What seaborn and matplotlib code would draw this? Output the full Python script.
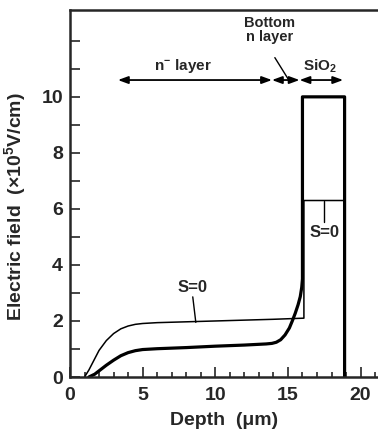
import matplotlib
matplotlib.use("Agg")
import matplotlib.pyplot as plt
import seaborn as sns
import pandas as pd
from matplotlib.ticker import MultipleLocator, FixedLocator

# field profile with S=0 (thin line)
thin_depth = [1.0, 1.3, 1.6, 2.0, 2.5, 3.0, 3.5, 4.0, 4.5, 5.0, 6.0, 8.0, 10.0, 12.0, 14.0, 16.1, 16.1, 18.9, 18.9]
thin_field = [0.0, 0.25, 0.55, 0.95, 1.3, 1.55, 1.72, 1.82, 1.88, 1.91, 1.94, 1.97, 2.0, 2.03, 2.06, 2.1, 6.3, 6.3, 0.0]

# field profile (thick line)
thick_depth = [1.3, 1.7, 2.0, 2.5, 3.0, 3.5, 4.0, 4.5, 5.0, 6.0, 8.0, 10.0, 12.0, 13.5, 13.9, 14.2, 14.5, 14.8, 15.1,
               15.3, 15.5, 15.7, 15.85, 15.95, 16.0, 16.0, 18.9, 18.9]
thick_field = [0.0, 0.1, 0.22, 0.42, 0.6, 0.76, 0.87, 0.94, 0.98, 1.01, 1.05, 1.1, 1.14, 1.18, 1.2, 1.24, 1.33, 1.5, 1.75,
               2.0, 2.27, 2.58, 2.87, 3.2, 3.5, 10.0, 10.0, 0.0]

# layer boundaries for the arrows
layer_edges = [3.3, 13.9, 15.8, 18.8]

sns.set_style("ticks")
plt.rcParams["font.family"] = ["Liberation Sans", "DejaVu Sans"]
plt.rcParams["font.weight"] = "bold"
plt.rcParams["mathtext.fontset"] = "custom"
plt.rcParams["mathtext.rm"] = "Liberation Sans:bold"
plt.rcParams["mathtext.bf"] = "Liberation Sans:bold"
plt.rcParams["mathtext.it"] = "Liberation Sans:bold"
plt.rcParams["mathtext.default"] = "rm"

fig = plt.figure(figsize=(3.78, 4.36), dpi=100)
ax = fig.add_axes([70 / 378, 1 - 377 / 436, 308 / 378, 367 / 436])

thin = pd.DataFrame({"depth": thin_depth, "field": thin_field})
thick = pd.DataFrame({"depth": thick_depth, "field": thick_field})
sns.lineplot(data=thin, x="depth", y="field", sort=False, estimator=None, color="black", lw=1.1, ax=ax)
sns.lineplot(data=thick, x="depth", y="field", sort=False, estimator=None, color="black", lw=2.3, ax=ax)

ax.set_xlim(0, 21.2)
ax.set_ylim(0, 13.1)
ax.xaxis.set_major_locator(FixedLocator([0, 5, 10, 15, 20]))
ax.xaxis.set_minor_locator(MultipleLocator(1))
ax.yaxis.set_major_locator(FixedLocator([0, 2, 4, 6, 8, 10]))
ax.yaxis.set_minor_locator(FixedLocator([1, 3, 5, 7, 9, 11, 12]))
ax.tick_params(axis="x", which="major", direction="in", length=7, width=1.2, pad=7, labelsize=14)
ax.tick_params(axis="x", which="minor", direction="in", length=3.5, width=1.2)
ax.tick_params(axis="y", which="both", direction="in", length=7, width=1.2, pad=5, labelsize=14)

for s in ["left", "top", "bottom"]:
    ax.spines[s].set_linewidth(1.8)
ax.spines["right"].set_visible(False)

ax.set_xlabel("Depth  (μm)", fontsize=14, fontweight="bold", labelpad=6)
ax.set_ylabel("Electric field  (×10$^{5}$V/cm)", fontsize=14, fontweight="bold")
ax.yaxis.set_label_coords(-0.135, 0.463)

arrow = dict(arrowstyle="<|-|>,head_length=0.6,head_width=0.22", lw=1.3, color="black", shrinkA=0, shrinkB=0)
for a, b in zip(layer_edges[:-1], layer_edges[1:]):
    ax.annotate("", xy=(a, 10.6), xytext=(b, 10.6), arrowprops=arrow)

ax.text(7.8, 11.1, "n$^{-}$ layer", fontsize=11, ha="center", va="center")
ax.text(13.75, 12.4, "Bottom\nn layer", fontsize=10.5, ha="center", va="center", linespacing=1.0)
ax.plot([14.1, 15.0], [11.4, 10.65], color="black", lw=1)
ax.text(17.2, 11.1, "SiO$_2$", fontsize=11, ha="center", va="center")

ax.text(8.4, 3.2, "S=0", fontsize=12, ha="center", va="center")
ax.plot([8.45, 8.66], [2.86, 1.95], color="black", lw=1)
ax.text(17.5, 5.15, "S=0", fontsize=12, ha="center", va="center")
ax.plot([17.5, 17.5], [6.3, 5.55], color="black", lw=1)

fig.savefig("out.png", dpi=100)
